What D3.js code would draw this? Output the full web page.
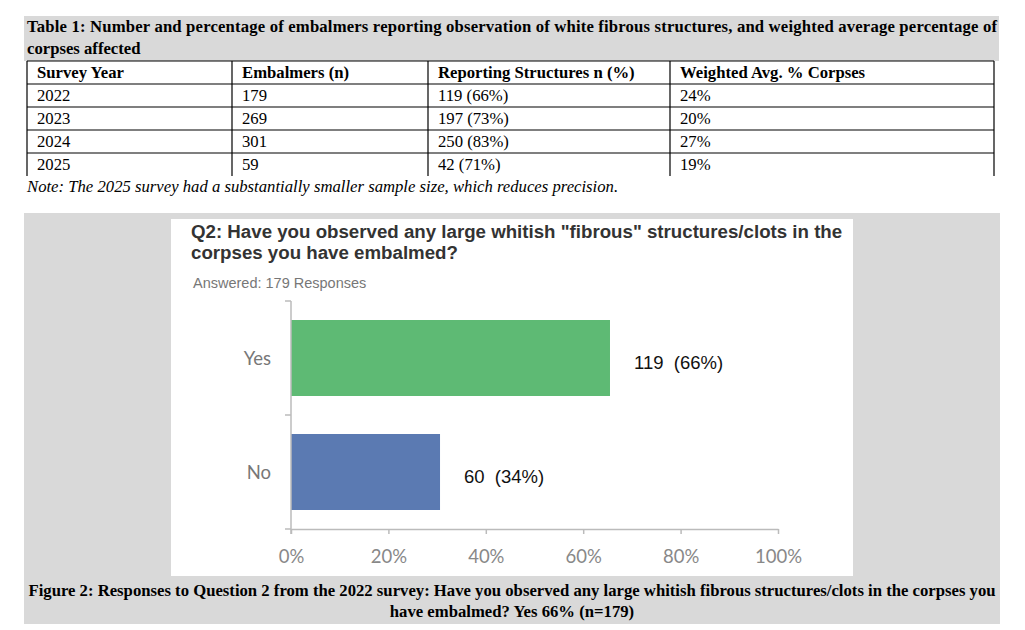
<!DOCTYPE html>
<html>
<head>
<meta charset="utf-8">
<script src="https://cdn.jsdelivr.net/npm/d3@7/dist/d3.min.js"></script>
<style>
  body { margin: 0; background: #fff; }
  svg { display: block; }
</style>
</head>
<body>
<svg id="page" width="1025" height="630"></svg>
<script>
// table data
const tableHeaders = ['Survey Year', 'Embalmers (n)', 'Reporting Structures n (%)', 'Weighted Avg. % Corpses'];
const surveyYears = ['2022', '2023', '2024', '2025'];
const embalmers = [179, 269, 301, 59];
const reportingN = [119, 197, 250, 42];
const reportingPct = [66, 73, 83, 71];
const weightedAvg = [24, 20, 27, 19];

// chart data (Q2, 2022 survey)
const answers = ['Yes', 'No'];
const answerCounts = [119, 60];
const answerPct = [66, 34];
const barPct = [65.5, 30.6];   // bar lengths as drawn in the figure
const xTicks = [0, 20, 40, 60, 80, 100];
const barColors = ['#5eba74', '#5b7ab2'];

const svg = d3.select('#page');
const serif = '"Liberation Serif", "Times New Roman", serif';
const sans = '"Liberation Sans", Arial, sans-serif';
const light = 'Lato, "Open Sans", sans-serif';
const serifSize = '16.7px';

// ---- Table 1 ----
svg.append('rect').attr('x', 24).attr('y', 16).attr('width', 975).attr('height', 45).attr('fill', '#d9d9d9');
svg.append('text').attr('x', 27).attr('y', 32)
  .attr('textLength', 970).attr('lengthAdjust', 'spacing')
  .style('font-family', serif).style('font-size', serifSize).style('font-weight', 'bold')
  .text('Table 1: Number and percentage of embalmers reporting observation of white fibrous structures, and weighted average percentage of');
svg.append('text').attr('x', 27).attr('y', 54)
  .style('font-family', serif).style('font-size', serifSize).style('font-weight', 'bold')
  .text('corpses affected');

const colX = [27, 232, 428, 670, 994];
const rowY = [61, 84, 107, 130, 153, 176];
const grid = svg.append('g').attr('stroke', '#000').attr('stroke-width', 1.2);
colX.forEach(x => grid.append('line').attr('x1', x).attr('x2', x).attr('y1', rowY[0]).attr('y2', rowY[5]));
rowY.slice(0, 5).forEach(y => grid.append('line').attr('x1', colX[0]).attr('x2', colX[4]).attr('y1', y).attr('y2', y));

tableHeaders.forEach((h, i) => {
  svg.append('text').attr('x', colX[i] + 10).attr('y', rowY[0] + 17)
    .style('font-family', serif).style('font-size', serifSize).style('font-weight', 'bold').text(h);
});
const rows = surveyYears.map((y, i) => [y, String(embalmers[i]), `${reportingN[i]} (${reportingPct[i]}%)`, `${weightedAvg[i]}%`]);
rows.forEach((r, ri) => {
  r.forEach((cell, ci) => {
    svg.append('text').attr('x', colX[ci] + 10).attr('y', rowY[ri + 1] + 17)
      .style('font-family', serif).style('font-size', serifSize).text(cell);
  });
});
svg.append('text').attr('x', 27).attr('y', 192)
  .style('font-family', serif).style('font-size', serifSize).style('font-style', 'italic')
  .text('Note: The 2025 survey had a substantially smaller sample size, which reduces precision.');

// ---- Figure 2 ----
svg.append('rect').attr('x', 24).attr('y', 213).attr('width', 976).attr('height', 411).attr('fill', '#d9d9d9');
svg.append('rect').attr('x', 171).attr('y', 219).attr('width', 682).attr('height', 357).attr('fill', '#fff');

svg.append('text').attr('x', 191).attr('y', 238)
  .style('font-family', sans).style('font-size', '18.7px').style('font-weight', 'bold').attr('fill', '#333')
  .text('Q2: Have you observed any large whitish "fibrous" structures/clots in the');
svg.append('text').attr('x', 191).attr('y', 259)
  .style('font-family', sans).style('font-size', '18.7px').style('font-weight', 'bold').attr('fill', '#333')
  .text('corpses you have embalmed?');
svg.append('text').attr('x', 193).attr('y', 288)
  .style('font-family', sans).style('font-size', '14.5px').attr('fill', '#777')
  .text('Answered: 179 Responses');

const x = d3.scaleLinear().domain([0, 100]).range([291, 778]);
const y = d3.scaleBand().domain(answers).range([301, 529]).paddingInner(1 / 3).paddingOuter(1 / 6);

// bars
svg.append('g').selectAll('rect').data(answers).join('rect')
  .attr('x', x(0))
  .attr('y', d => y(d))
  .attr('width', (d, i) => x(barPct[i]) - x(0))
  .attr('height', y.bandwidth())
  .attr('fill', (d, i) => barColors[i]);

// y axis line + ticks at band edges
const axisColor = '#bbb';
const yEdges = [y.range()[0], y(answers[1]) - y.step() * y.paddingInner() / 2, y.range()[1]];
svg.append('line').attr('x1', x(0)).attr('x2', x(0)).attr('y1', yEdges[0]).attr('y2', yEdges[2] + 5)
  .attr('stroke', axisColor).attr('stroke-width', 1.5);
yEdges.forEach(e => svg.append('line').attr('x1', x(0) - 6).attr('x2', x(0)).attr('y1', e).attr('y2', e)
  .attr('stroke', axisColor).attr('stroke-width', 1.5));

// x axis
const xAxis = d3.axisBottom(x).tickValues(xTicks).tickFormat(d => d + '%').tickSize(5).tickSizeOuter(0).tickPadding(16);
const gx = svg.append('g').attr('transform', `translate(0,${y.range()[1]})`).call(xAxis);
gx.select('.domain').attr('stroke', axisColor).attr('stroke-width', 1.5);
gx.selectAll('.tick line').attr('stroke', axisColor).attr('stroke-width', 1.5);
gx.selectAll('.tick text').attr('fill', '#888').style('font-family', light).style('font-size', '18.5px');

// category labels
svg.append('g').selectAll('text').data(answers).join('text')
  .attr('x', 271)
  .attr('y', d => y(d) + y.bandwidth() / 2 + 1)
  .attr('dy', '0.35em')
  .attr('text-anchor', 'end')
  .attr('fill', '#777')
  .style('font-family', light).style('font-size', '18.5px')
  .text(d => d);

// value labels
svg.append('g').selectAll('text').data(answers).join('text')
  .attr('x', (d, i) => x(barPct[i]) + 24)
  .attr('y', d => y(d) + y.bandwidth() / 2 + 5)
  .attr('dy', '0.35em')
  .attr('fill', '#111')
  .attr('xml:space', 'preserve')
  .style('font-family', sans).style('font-size', '18.5px')
  .text((d, i) => `${answerCounts[i]}  (${answerPct[i]}%)`);

// caption
svg.append('text').attr('x', 512).attr('y', 596).attr('text-anchor', 'middle')
  .style('font-family', serif).style('font-size', serifSize).style('font-weight', 'bold')
  .text('Figure 2: Responses to Question 2 from the 2022 survey: Have you observed any large whitish fibrous structures/clots in the corpses you');
svg.append('text').attr('x', 512).attr('y', 617).attr('text-anchor', 'middle')
  .style('font-family', serif).style('font-size', serifSize).style('font-weight', 'bold')
  .text('have embalmed? Yes 66% (n=179)');
</script>
</body>
</html>
